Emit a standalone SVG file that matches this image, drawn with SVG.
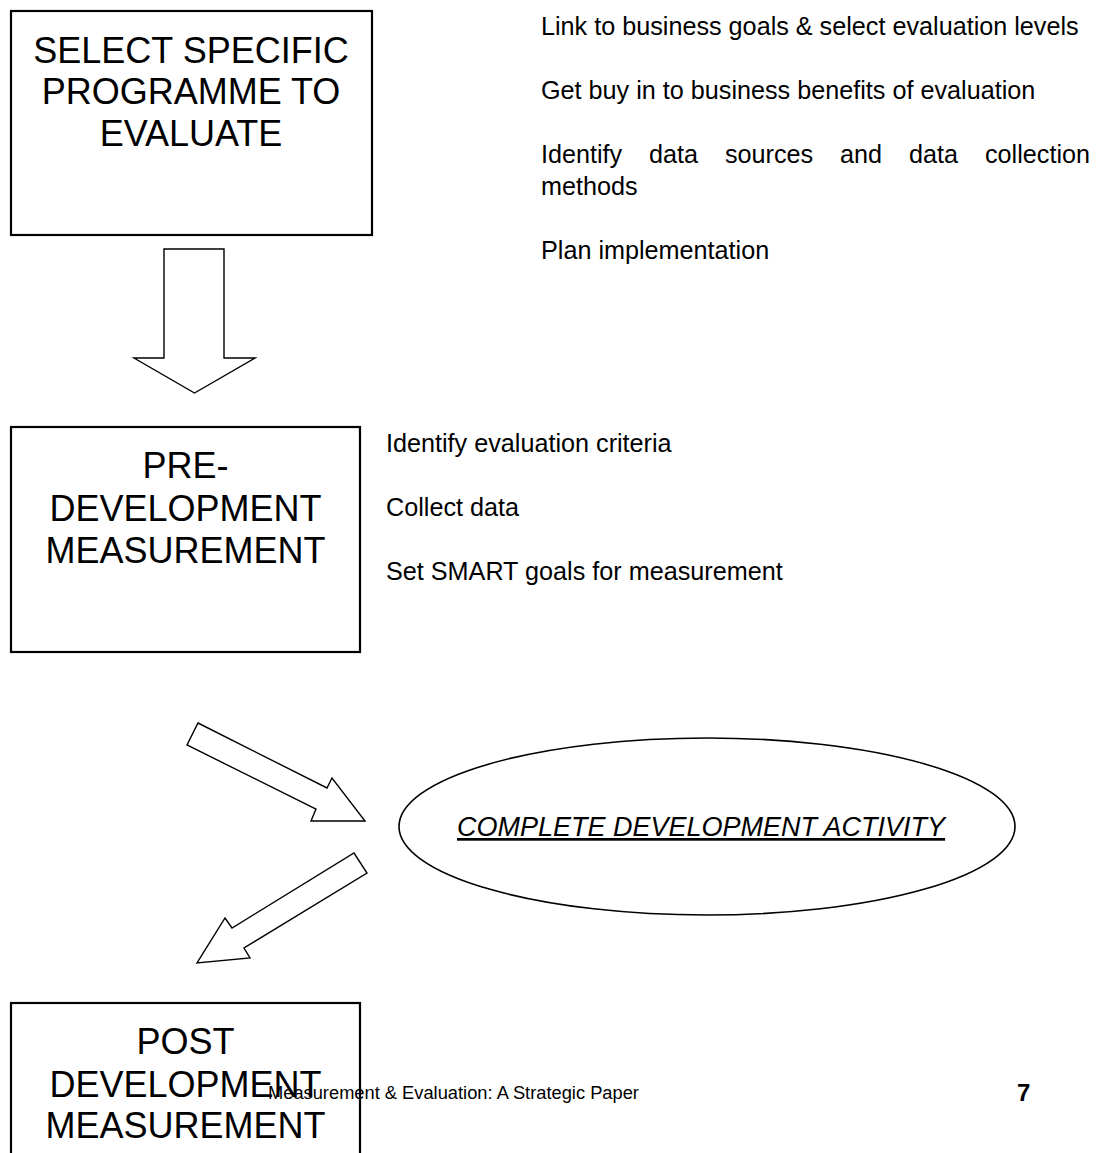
<svg xmlns="http://www.w3.org/2000/svg" width="1102" height="1153" viewBox="0 0 1102 1153">
<style>
.box{fill:#fff;stroke:#000;stroke-width:2.2}
.arrow{fill:#fff;stroke:#000;stroke-width:1.4;stroke-linejoin:miter}
.big{font-family:"Liberation Sans",Arial,sans-serif;font-size:36px;fill:#000;text-anchor:middle}
.note{font-family:"Liberation Sans",Arial,sans-serif;font-size:25.2px;fill:#000}
.oval{font-family:"Liberation Sans",Arial,sans-serif;font-size:27px;font-style:italic;text-decoration:underline;fill:#000}
.foot{font-family:"Liberation Sans",Arial,sans-serif;font-size:18.3px;fill:#000}
.page{font-family:"Liberation Sans",Arial,sans-serif;font-size:24px;font-weight:bold;fill:#000}
</style>
<rect width="1102" height="1153" fill="#fff"/>
<g id="connectors">
  <polygon class="arrow" points="164,249 224,249 224,358 255,358 194.5,393 134,358 164,358"/>
  <polygon class="arrow" points="198,723 327,788 332,778 365,821 311,821 316,809 187,745"/>
  <polygon class="arrow" points="354,853 367,873 244,948 250,958 197,963 225,918 232,928"/>
</g>
<g id="node-select">
  <rect class="box" x="11" y="11" width="361" height="224"/>
  <text class="big" x="191" y="63">SELECT SPECIFIC</text>
  <text class="big" x="191" y="104">PROGRAMME TO</text>
  <text class="big" x="191" y="146">EVALUATE</text>
</g>
<g id="notes-select">
  <text class="note" x="541" y="35">Link to business goals &amp; select evaluation levels</text>
  <text class="note" x="541" y="99">Get buy in to business benefits of evaluation</text>
  <text class="note" y="163"><tspan x="541">Identify</tspan><tspan x="649">data</tspan><tspan x="725">sources</tspan><tspan x="840">and</tspan><tspan x="909">data</tspan><tspan x="985">collection</tspan></text>
  <text class="note" x="541" y="195">methods</text>
  <text class="note" x="541" y="259">Plan implementation</text>
</g>
<g id="node-pre">
  <rect class="box" x="11" y="427" width="349" height="225"/>
  <text class="big" x="185.5" y="478">PRE-</text>
  <text class="big" x="185.5" y="521">DEVELOPMENT</text>
  <text class="big" x="185.5" y="563">MEASUREMENT</text>
</g>
<g id="notes-pre">
  <text class="note" x="386" y="452">Identify evaluation criteria</text>
  <text class="note" x="386" y="516">Collect data</text>
  <text class="note" x="386" y="580">Set SMART goals for measurement</text>
</g>
<g id="node-activity">
  <ellipse cx="707" cy="826.5" rx="308" ry="88.5" fill="#fff" stroke="#000" stroke-width="1.6"/>
  <text class="oval" x="457" y="836">COMPLETE DEVELOPMENT ACTIVITY</text>
</g>
<g id="node-post">
  <rect class="box" x="11" y="1003" width="349" height="200"/>
  <text class="big" x="185.5" y="1054">POST</text>
  <text class="big" x="185.5" y="1097">DEVELOPMENT</text>
  <text class="big" x="185.5" y="1138">MEASUREMENT</text>
</g>
<g id="footer">
  <text class="foot" x="268" y="1099">Measurement &amp; Evaluation: A Strategic Paper</text>
  <text class="page" x="1017" y="1101">7</text>
</g>
</svg>
